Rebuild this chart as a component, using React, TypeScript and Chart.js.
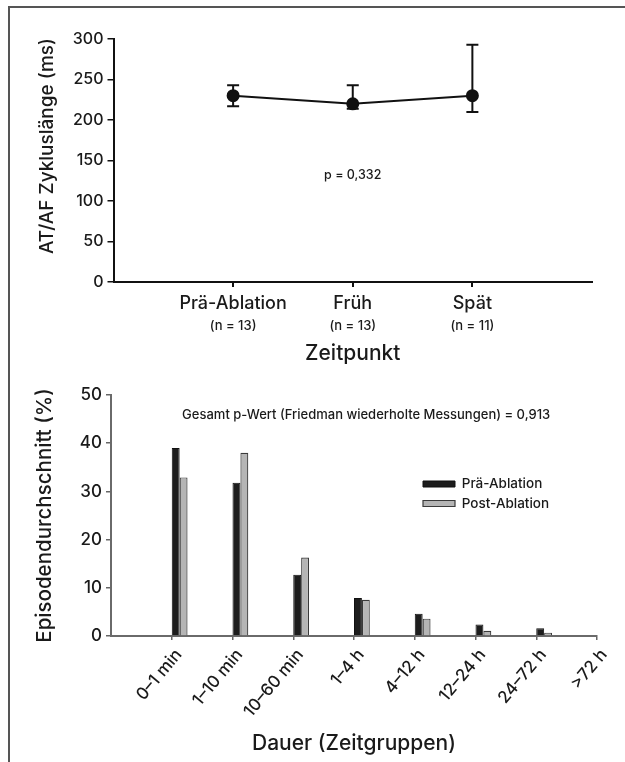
import React, { useEffect, useRef } from "react";
import { Chart, registerables } from "chart.js";

Chart.register(...registerables);

const FONT = "Inter, 'Liberation Sans', Arial, sans-serif";
const WEIGHT = "500";
const TEXT = "#1a1a1a";

// ---------- Top chart: AT/AF cycle length ----------
const timeLabels = ["Prä-Ablation", "Früh", "Spät"];
const nLabels = ["(n = 13)", "(n = 13)", "(n = 11)"];
const timePos = [1, 2, 3];
const cycleMean = [230, 220, 230];
const cycleLow = [217, 214, 210];
const cycleHigh = [243, 243, 293];
const cycleMax = 300;
const cycleStep = 50;

// ---------- Bottom chart: episode duration ----------
const durationLabels = ["0–1 min", "1–10 min", "10–60 min", "1–4 h", "4–12 h", "12–24 h", "24–72 h", ">72 h"];
const preValues = [39.0, 31.8, 12.7, 7.9, 4.6, 2.4, 1.6, 0];
const postValues = [32.9, 38.0, 16.3, 7.5, 3.6, 1.1, 0.7, 0];
const episodeMax = 50;
const episodeStep = 10;

const groupShare = 0.26; // share of a category slot used by the bar pair
const durationPos = durationLabels.map((_, i) => i + 1);

type Note = {
  text: string;
  x: number;
  y: number;
  size: number;
  rotate?: number;
  scaleX?: string;
  scaleY?: string;
};

function notesPlugin(id: string, notes: Note[]) {
  return {
    id,
    afterDraw(chart: any) {
      const ctx = chart.ctx as CanvasRenderingContext2D;
      notes.forEach((n) => {
        const px = n.scaleX ? chart.scales[n.scaleX].getPixelForValue(n.x) : n.x;
        const py = n.scaleY ? chart.scales[n.scaleY].getPixelForValue(n.y) : n.y;
        ctx.save();
        ctx.translate(px, py);
        if (n.rotate) ctx.rotate((n.rotate * Math.PI) / 180);
        ctx.font = `${WEIGHT} ${n.size}px ${FONT}`;
        ctx.fillStyle = TEXT;
        ctx.textAlign = "center";
        ctx.textBaseline = "middle";
        ctx.fillText(n.text, 0, 0);
        ctx.restore();
      });
    },
  };
}

const errorBars = {
  id: "errorBars",
  beforeDatasetsDraw(chart: any) {
    const ctx = chart.ctx as CanvasRenderingContext2D;
    const xs = chart.scales.x;
    const ys = chart.scales.y;
    ctx.save();
    ctx.strokeStyle = "#111";
    ctx.lineWidth = 2;
    timePos.forEach((p, i) => {
      const px = xs.getPixelForValue(p);
      const yl = ys.getPixelForValue(cycleLow[i]);
      const yh = ys.getPixelForValue(cycleHigh[i]);
      ctx.beginPath();
      ctx.moveTo(px, yl);
      ctx.lineTo(px, yh);
      ctx.moveTo(px - 6, yl);
      ctx.lineTo(px + 6, yl);
      ctx.moveTo(px - 6, yh);
      ctx.lineTo(px + 6, yh);
      ctx.stroke();
    });
    ctx.restore();
  },
};

const legendPlace = {
  id: "legendPlace",
  afterLayout(chart: any) {
    const lg = chart.legend;
    if (!lg) return;
    const pad = lg.options.labels.padding;
    const fs = lg.options.labels.font.size;
    const bh = lg.options.labels.boxHeight;
    lg.left = 423 - pad;
    lg.top = 101 - (fs - bh) / 2 - pad;
    lg.right = lg.left + lg.width;
    lg.bottom = lg.top + 200;
  },
};

function topConfig(): any {
  const fixedTicks = (s: any) => {
    s.ticks = timePos.map((v) => ({ value: v }));
  };
  return {
    type: "line",
    data: {
      datasets: [
        {
          data: timePos.map((x, i) => ({ x, y: cycleMean[i] })),
          xAxisID: "x",
          yAxisID: "y",
          borderColor: "#111",
          borderWidth: 2,
          pointRadius: 5.5,
          pointBackgroundColor: "#111",
          pointBorderColor: "#111",
          tension: 0,
        },
      ],
    },
    options: {
      animation: false,
      responsive: true,
      maintainAspectRatio: false,
      events: [],
      layout: { padding: { left: 0, top: 39, right: 33, bottom: 14 } },
      plugins: { legend: { display: false }, tooltip: { enabled: false } },
      scales: {
        x: {
          type: "linear",
          position: "bottom",
          weight: 0,
          offset: false,
          min: 0,
          max: 4,
          afterBuildTicks: fixedTicks,
          afterFit: (s: any) => {
            s.height = 33;
          },
          ticks: {
            autoSkip: false,
            maxRotation: 0,
            padding: 6,
            color: TEXT,
            font: { size: 18 },
            callback: (v: number) => timeLabels[timePos.indexOf(v)] ?? "",
          },
          grid: { offset: false, drawOnChartArea: false, drawTicks: true, tickLength: 5, color: "#111", lineWidth: 2 },
          border: { color: "#111", width: 2 },
        },
        xn: {
          type: "linear",
          axis: "x",
          position: "bottom",
          weight: 1,
          offset: false,
          min: 0,
          max: 4,
          afterBuildTicks: fixedTicks,
          afterFit: (s: any) => {
            s.height = 51;
          },
          ticks: {
            autoSkip: false,
            maxRotation: 0,
            padding: 3,
            color: TEXT,
            font: { size: 13 },
            callback: (v: number) => nLabels[timePos.indexOf(v)] ?? "",
          },
          grid: { display: false, drawTicks: false },
          border: { display: false },
          title: { display: true, text: "Zeitpunkt", color: TEXT, font: { size: 21 }, padding: 0 },
        },
        y: {
          min: 0,
          max: cycleMax,
          afterFit: (s: any) => {
            s.width = 113.5;
          },
          ticks: { stepSize: cycleStep, padding: 4, color: TEXT, font: { size: 16 } },
          grid: { drawOnChartArea: false, tickLength: 6, color: "#111", lineWidth: 1.5 },
          border: { color: "#111", width: 2 },
        },
      },
    },
    plugins: [
      errorBars,
      notesPlugin("notesTop", [
        { text: "AT/AF Zykluslänge (ms)", x: 47, y: 146, size: 19, rotate: -90 },
        { text: "p = 0,332", x: 2, y: 132, size: 12.5, scaleX: "x", scaleY: "y" },
      ]),
    ],
  };
}

function bottomConfig(): any {
  const fixedTicks = (s: any) => {
    s.ticks = durationPos.map((v) => ({ value: v }));
  };
  const shift = groupShare / 2;
  return {
    type: "bar",
    data: {
      datasets: [
        {
          label: "Prä-Ablation",
          data: durationPos.map((x, i) => ({ x, y: preValues[i] })),
          xAxisID: "xb",
          yAxisID: "y",
          backgroundColor: "#1d1d1d",
          borderColor: "#111",
          borderWidth: 1,
          categoryPercentage: groupShare,
          barPercentage: 1,
        },
        {
          label: "Post-Ablation",
          data: durationPos.map((x, i) => ({ x, y: postValues[i] })),
          xAxisID: "xb",
          yAxisID: "y",
          backgroundColor: "#b5b5b5",
          borderColor: "#3a3a3a",
          borderWidth: 1.2,
          categoryPercentage: groupShare,
          barPercentage: 1,
        },
      ],
    },
    options: {
      animation: false,
      responsive: true,
      maintainAspectRatio: false,
      events: [],
      layout: { padding: { left: 0, top: 15, right: 28, bottom: 6 } },
      plugins: {
        tooltip: { enabled: false },
        legend: {
          position: "chartArea",
          align: "start",
          labels: { boxWidth: 32, boxHeight: 6, padding: 6, color: TEXT, font: { size: 13.5 } },
        },
      },
      scales: {
        x: {
          type: "linear",
          position: "bottom",
          offset: false,
          min: 0,
          max: durationLabels.length,
          afterBuildTicks: fixedTicks,
          afterFit: (s: any) => {
            s.height = 120;
          },
          ticks: {
            autoSkip: false,
            minRotation: 50,
            maxRotation: 50,
            padding: 5,
            labelOffset: 7,
            color: TEXT,
            font: { size: 17 },
            callback: (v: number) => durationLabels[durationPos.indexOf(v)] ?? "",
          },
          grid: { offset: false, drawOnChartArea: false, tickLength: 4, color: "#666", lineWidth: 1.5 },
          border: { color: "#6a6a6a", width: 2 },
          title: { display: true, text: "Dauer (Zeitgruppen)", color: TEXT, font: { size: 21 }, padding: 0 },
        },
        xb: {
          type: "linear",
          axis: "x",
          display: false,
          offset: false,
          grid: { offset: false },
          min: -shift,
          max: durationLabels.length - shift,
          afterBuildTicks: fixedTicks,
        },
        y: {
          min: 0,
          max: episodeMax,
          afterFit: (s: any) => {
            s.width = 111;
          },
          ticks: { stepSize: episodeStep, padding: 4, color: TEXT, font: { size: 17 } },
          grid: { drawOnChartArea: false, tickLength: 5, color: "#666", lineWidth: 1.5 },
          border: { color: "#6a6a6a", width: 2 },
          title: {
            display: true,
            text: "Episodendurchschnitt (%)",
            color: TEXT,
            font: { size: 20.5 },
            padding: { top: 33, bottom: 0 },
          },
        },
      },
    },
    plugins: [
      legendPlace,
      notesPlugin("notesBottom", [
        {
          text: "Gesamt p-Wert (Friedman wiederholte Messungen) = 0,913",
          x: 4.2,
          y: 45.9,
          size: 13,
          scaleX: "x",
          scaleY: "y",
        },
      ]),
    ],
  };
}

export default function App() {
  const topRef = useRef<HTMLCanvasElement>(null);
  const botRef = useRef<HTMLCanvasElement>(null);

  useEffect(() => {
    Chart.defaults.font.family = FONT;
    Chart.defaults.font.weight = WEIGHT as any;
    const top = new Chart(topRef.current as HTMLCanvasElement, topConfig());
    const bot = new Chart(botRef.current as HTMLCanvasElement, bottomConfig());
    return () => {
      top.destroy();
      bot.destroy();
    };
  }, []);

  return (
    <div
      style={{
        position: "absolute",
        left: 0,
        top: 0,
        width: 625,
        height: 762,
        background: "#fff",
        overflow: "hidden",
      }}
    >
      <div
        style={{
          position: "absolute",
          left: 8,
          top: 6,
          right: -4,
          bottom: -4,
          borderTop: "2px solid #555",
          borderLeft: "2px solid #555",
        }}
      />
      <div style={{ position: "absolute", left: 0, top: 0, width: 625, height: 380 }}>
        <canvas ref={topRef} />
      </div>
      <div style={{ position: "absolute", left: 0, top: 380, width: 625, height: 382 }}>
        <canvas ref={botRef} />
      </div>
    </div>
  );
}
